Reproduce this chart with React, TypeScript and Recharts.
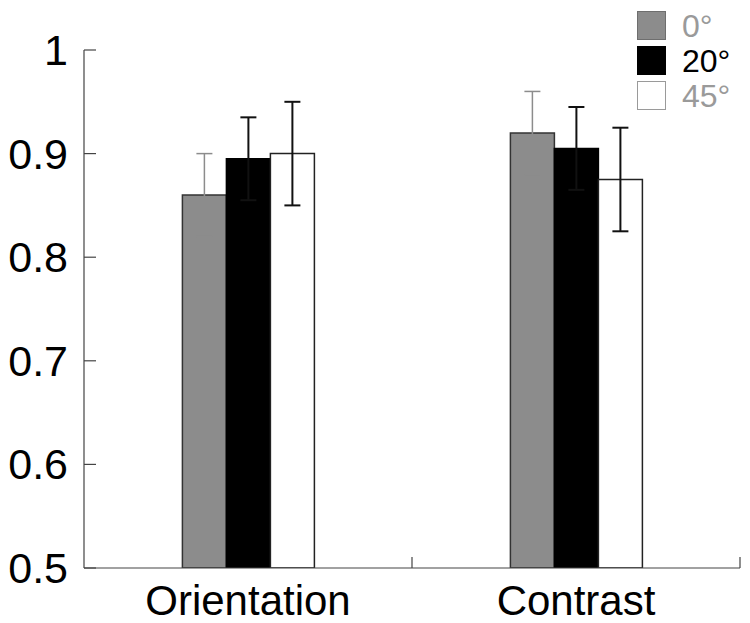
import { BarChart, Bar, XAxis, YAxis, ErrorBar } from "recharts";

const categories = ["Orientation", "Contrast"];
const deg0 = [0.86, 0.92];
const err0 = [0.04, 0.04];
const deg20 = [0.895, 0.905];
const err20 = [0.04, 0.04];
const deg45 = [0.9, 0.875];
const err45 = [0.05, 0.05];
const yTicks = [0.5, 0.6, 0.7, 0.8, 0.9, 1];

const legendItems = [
  { label: "0°", fill: "#8c8c8c", border: "#6e6e6e", text: "#9a9a9a" },
  { label: "20°", fill: "#000000", border: "#000000", text: "#000000" },
  { label: "45°", fill: "#ffffff", border: "#9a9a9a", text: "#9a9a9a" },
];

const data = categories.map((name, i) => ({
  name,
  d0: deg0[i],
  e0: err0[i],
  d20: deg20[i],
  e20: err20[i],
  d45: deg45[i],
  e45: err45[i],
}));

const W = 750;
const H = 623;
const LEFT = 84;
const RIGHT = 10;
const FONT = "'Liberation Sans', Arial, Helvetica, sans-serif";
const halfBand = (W - LEFT - RIGHT) / categories.length / 2;

function YTick(props: any) {
  const { x, y, payload } = props;
  return (
    <g>
      <line x1={x + 16} x2={x + 28} y1={y} y2={y} stroke="#444" strokeWidth={1.2} />
      <text x={x} y={y} dy={15} textAnchor="end" fontSize={43} fill="#000" fontFamily={FONT}>
        {payload.value}
      </text>
    </g>
  );
}

function XTick(props: any) {
  const { x, y, payload } = props;
  return (
    <g>
      <line x1={x + halfBand} x2={x + halfBand} y1={y} y2={y - 11} stroke="#444" strokeWidth={1.2} />
      <text x={x} y={y + 47} textAnchor="middle" fontSize={42} fill="#000" fontFamily={FONT}>
        {payload.value}
      </text>
    </g>
  );
}

export default function App() {
  return (
    <div style={{ position: "absolute", left: 0, top: 0, width: W, height: H, background: "#fff" }}>
      <BarChart
        width={W}
        height={H}
        data={data}
        margin={{ top: 50, right: RIGHT, left: 0, bottom: 0 }}
        barCategoryGap="30%"
        barGap={0}
      >
        <XAxis
          dataKey="name"
          height={55}
          tickSize={0}
          tickMargin={0}
          tick={<XTick />}
          axisLine={{ stroke: "#444", strokeWidth: 1.2 }}
          interval={0}
        />
        <YAxis
          width={LEFT}
          domain={[0.5, 1]}
          ticks={yTicks}
          tickSize={0}
          tickMargin={16}
          tick={<YTick />}
          axisLine={{ stroke: "#444", strokeWidth: 1.2 }}
          allowDataOverflow
        />
        <Bar dataKey="d0" fill="#8c8c8c" stroke="#333" strokeWidth={1.5} isAnimationActive={false}>
          <ErrorBar dataKey="e0" direction="y" width={8} stroke="#8c8c8c" strokeWidth={1.5} />
        </Bar>
        <Bar dataKey="d20" fill="#000" stroke="#000" strokeWidth={1.5} isAnimationActive={false}>
          <ErrorBar dataKey="e20" direction="y" width={8} stroke="#111" strokeWidth={2} />
        </Bar>
        <Bar dataKey="d45" fill="#fff" stroke="#222" strokeWidth={1.5} isAnimationActive={false}>
          <ErrorBar dataKey="e45" direction="y" width={8} stroke="#111" strokeWidth={2} />
        </Bar>
      </BarChart>
      <div style={{ position: "absolute", left: 637, top: 8, fontFamily: FONT }}>
        {legendItems.map((it) => (
          <div key={it.label} style={{ display: "flex", alignItems: "center", height: 35 }}>
            <div
              style={{
                width: 27,
                height: 27,
                background: it.fill,
                border: `1px solid ${it.border}`,
              }}
            />
            <span style={{ marginLeft: 16, fontSize: 32, color: it.text, lineHeight: "34px" }}>
              {it.label}
            </span>
          </div>
        ))}
      </div>
    </div>
  );
}
